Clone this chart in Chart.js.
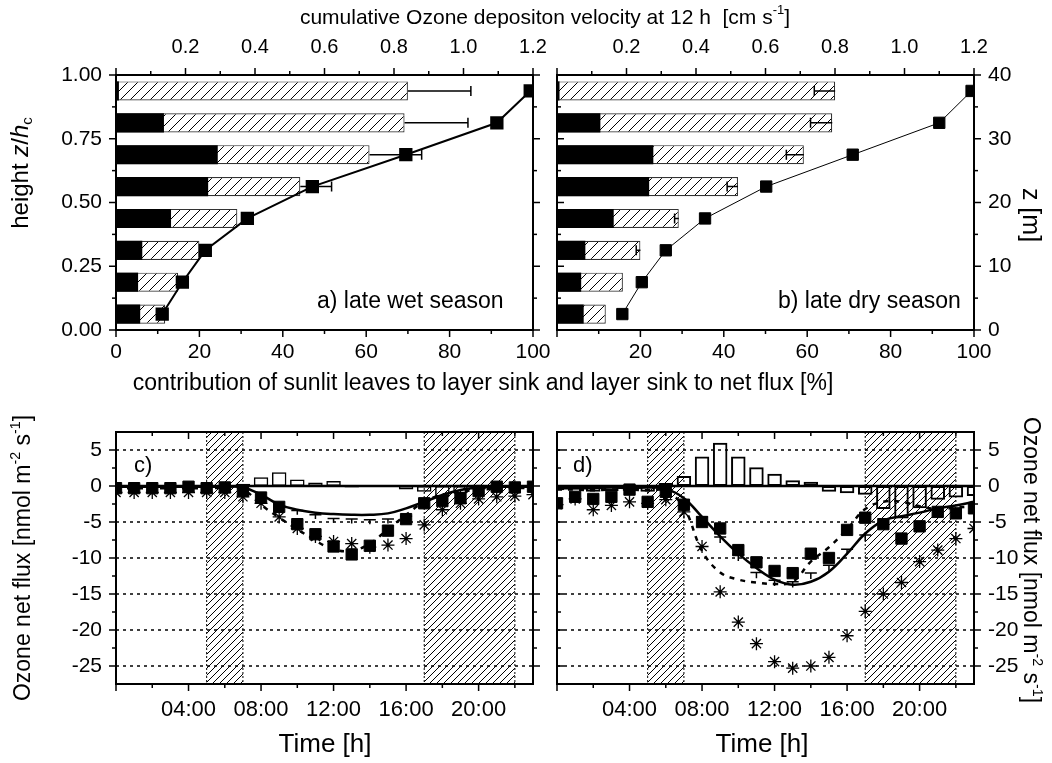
<!DOCTYPE html>
<html>
<head>
<meta charset="utf-8">
<script src="https://cdn.jsdelivr.net/npm/chart.js@4.4.1/dist/chart.umd.min.js"></script>
<style>
  body { margin: 0; width: 1052px; height: 763px; position: relative; overflow: hidden; background: #fff;
         font-family: "Liberation Sans", Arial, Helvetica, sans-serif; color: #000; }
  canvas { position: absolute; left: 0; top: 0; }
  .lbl { position: absolute; white-space: nowrap; line-height: 1; transform: translate(-50%, -50%); }
  .left { transform: translate(0, -50%); }
  .rotL { transform: translate(-50%, -50%) rotate(-90deg); }
  .rotR { transform: translate(-50%, -50%) rotate(90deg); }
  sup { font-size: 0.62em; vertical-align: 0.7em; line-height: 0; }
  sub { font-size: 0.62em; vertical-align: -0.3em; line-height: 0; }
</style>
</head>
<body>
<canvas id="panelA" width="1052" height="763"></canvas>
<canvas id="panelB" width="1052" height="763"></canvas>
<canvas id="panelC" width="1052" height="763"></canvas>
<canvas id="panelD" width="1052" height="763"></canvas>

<div class="lbl" style="left:545px;top:16px;font-size:21px">cumulative Ozone depositon velocity at 12 h&nbsp; [cm s<sup>-1</sup>]</div>
<div class="lbl" style="left:483px;top:382px;font-size:23px">contribution of sunlit leaves to layer sink and layer sink to net flux [%]</div>
<div class="lbl rotL" style="left:20px;top:173px;font-size:24px">height <i>z</i>/<i>h</i><sub>c</sub></div>
<div class="lbl rotR" style="left:1031px;top:215px;font-size:25px">z [m]</div>
<div class="lbl left" style="left:317px;top:300px;font-size:23px">a) late wet season</div>
<div class="lbl left" style="left:778px;top:300px;font-size:23px">b) late dry season</div>
<div class="lbl left" style="left:134px;top:465px;font-size:22px">c)</div>
<div class="lbl left" style="left:573px;top:465px;font-size:22px">d)</div>
<div class="lbl rotL" style="left:22px;top:558px;font-size:23px">Ozone net flux [nmol m<sup>-2</sup> s<sup>-1</sup>]</div>
<div class="lbl rotR" style="left:1031px;top:560px;font-size:23px">Ozone net flux [nmol m<sup>-2</sup> s<sup>-1</sup>]</div>
<div class="lbl" style="left:325px;top:743px;font-size:26px">Time [h]</div>
<div class="lbl" style="left:762px;top:743px;font-size:26px">Time [h]</div>

<script>
// ---- profiles (8 canopy layers, bottom -> top) ----
const layerZ = [0.0625, 0.1875, 0.3125, 0.4375, 0.5625, 0.6875, 0.8125, 0.9375];

// a) late wet season
const sinkWet    = [11.8, 14.9, 20.0, 29.1, 44.2, 60.8, 69.2, 70.0];
const sunlitWet  = [5.8, 5.3, 6.3, 13.2, 22.1, 24.4, 11.5, 0.7];
const sinkErrWet = [0, 0, 0, 0, 7.5, 12.5, 15.2, 15.1];
const vdWet      = [0.133, 0.191, 0.257, 0.378, 0.565, 0.834, 1.096, 1.192];

// b) late dry season
const sinkDry    = [11.7, 15.8, 20.0, 29.2, 43.4, 59.2, 66.0, 66.7];
const sunlitDry  = [6.4, 5.8, 6.8, 13.6, 22.1, 23.1, 10.4, 0.6];
const sinkErrDry = [0, 0, -1.0, -1.0, -2.6, -4.2, -5.2, -5.0];
const vdDry      = [0.188, 0.244, 0.313, 0.426, 0.602, 0.851, 1.100, 1.193];

// ---- diurnal courses ----
const hours = [0, 1, 2, 3, 4, 5, 6, 7, 8, 9, 10, 11, 12, 13, 14, 15, 16, 17, 18, 19, 20, 21, 22, 23];
const nightSpans = [[5, 7], [17, 22]];

// c) late wet season
const diffC  = [-0.1, -0.1, -0.1, -0.1, -0.1, -0.1, -0.1, 0.3, 1.2, 1.9, 0.9, 0.5, 0.7, -0.2, 0.15, 0.1, -0.5, -0.8, -1.5, -1.0, -0.5, -0.3, -0.2, -0.2];
const fluxC  = [-0.3, -0.3, -0.3, -0.3, -0.1, -0.3, -0.2, -0.7, -1.6, -2.9, -5.3, -6.7, -8.4, -9.5, -8.3, -6.2, -4.6, -2.4, -2.1, -1.7, -0.7, -0.1, -0.2, -0.1];
const starC  = [-0.9, -0.9, -0.9, -0.9, -0.9, -0.9, -0.9, -1.5, -2.4, -4.3, -5.9, -7.0, -7.7, -8.0, -8.5, -8.2, -7.3, -5.4, -3.3, -2.4, -1.8, -1.5, -1.4, -1.2];
const modelC = [-0.1, -0.1, -0.1, -0.1, -0.1, -0.1, -0.1, -0.2, -1.2, -2.6, -3.3, -3.7, -3.9, -4.0, -4.0, -3.8, -3.1, -2.2, -1.25, -0.55, -0.2, -0.1, -0.1, -0.1];
const dashC  = [-0.3, -0.3, -0.3, -0.3, -0.3, -0.3, -0.3, -0.5, -2.6, -4.4, -6.0, -7.6, -8.8, -9.0, -8.0, -6.0, -4.0, -2.2, -1.2, -0.8, -0.5, -0.4, -0.3, -0.3];
const capHiC = [null, null, null, null, null, null, null, null, null, null, -3.4, -4.0, -4.5, -4.6, -4.7, -4.6, -4.2, null, null, null, null, null, null, null];
const capLoC = [null, null, null, null, null, null, null, null, null, null, -4.0, -4.6, -5.1, -5.2, -5.3, -5.2, -4.8, null, null, null, null, null, null, null];

// d) late dry season
const diffD  = [-0.6, -0.5, -0.8, -0.7, -0.4, -0.8, 0.4, 1.4, 4.1, 6.0, 4.1, 2.6, 1.7, 0.8, 0.6, -0.8, -1.0, -1.2, -3.2, -4.5, -3.1, -1.9, -1.6, -1.4];
const fluxD  = [-2.4, -1.5, -1.8, -1.5, -0.5, -2.2, -0.8, -2.6, -5.0, -5.9, -8.9, -10.6, -11.8, -12.1, -9.4, -10.0, -6.1, -4.4, -5.3, -7.3, -5.6, -3.6, -3.8, -3.1];
const starD  = [-2.6, -1.8, -3.3, -2.7, -2.2, -2.4, -1.9, -3.6, -8.4, -14.7, -18.9, -21.9, -24.4, -25.3, -25.0, -23.8, -20.8, -17.4, -15.0, -13.4, -10.5, -8.9, -7.3, -5.9];
const modelD = [-0.3, -0.3, -0.3, -0.2, -0.3, -0.2, -0.4, -1.7, -4.3, -7.0, -9.4, -11.4, -13.0, -13.7, -13.3, -11.9, -9.4, -6.6, -4.8, -4.2, -3.7, -3.1, -2.7, -2.2];
const dashD  = [-0.5, -0.5, -0.6, -0.5, -0.5, -0.6, -0.7, -3.0, -9.0, -12.0, -13.0, -13.4, -13.6, -13.3, -10.5, -8.5, -6.0, -3.2, -2.2, -2.2, -2.8, -3.2, -3.0, -2.8];
const capHiD = [null, null, null, null, null, null, null, null, -4.3, -7.1, -9.6, -12.0, -13.1, -13.3, -12.1, -11.0, -8.8, -6.8, null, null, null, null, null, null];
const capLoD = [null, null, null, null, null, null, null, null, -5.0, -7.9, -10.4, -12.8, -13.9, -14.1, -12.9, -11.8, -9.6, -7.6, null, null, null, null, null, null];

// ---- ticks ----
const pctTicks   = [0, 20, 40, 60, 80, 100];
const vdTicks    = [0.2, 0.4, 0.6, 0.8, 1.0, 1.2];
const zhTicks    = [0, 0.25, 0.5, 0.75, 1];
const zmTicks    = [0, 10, 20, 30, 40];
const fluxTicks  = [5, 0, -5, -10, -15, -20, -25];
const gridLevels = [5, -5, -10, -15, -20, -25];
const timeTicks  = [4, 8, 12, 16, 20];
const timeLabels = ['04:00', '08:00', '12:00', '16:00', '20:00'];


const W = 1052, H = 763;
const FONT = '"Liberation Sans", Arial, Helvetica, sans-serif';

function mids(arr) {
    const out = [];
    for (let i = 1; i < arr.length; i++) out.push((arr[i - 1] + arr[i]) / 2);
    return out;
}

function hatchPattern(size, bg) {
    const c = document.createElement('canvas');
    c.width = c.height = size;
    const g = c.getContext('2d');
    if (bg) { g.fillStyle = bg; g.fillRect(0, 0, size, size); }
    g.strokeStyle = '#000';
    g.lineWidth = 1;
    g.beginPath();
    g.moveTo(0, size); g.lineTo(size, 0);
    g.moveTo(-1, 1); g.lineTo(1, -1);
    g.moveTo(size - 1, size + 1); g.lineTo(size + 1, size - 1);
    g.stroke();
    return c.getContext('2d').createPattern(c, 'repeat');
}

const barHatch = hatchPattern(10, '#fff');
const nightHatch = hatchPattern(7, null);

function drawAxis(ctx, chart, ax) {
    const s = chart.scales[ax.scale], a = chart.chartArea;
    const horiz = ax.side === 'top' || ax.side === 'bottom';
    const edge = a[ax.side];
    const sign = (ax.side === 'bottom' || ax.side === 'right') ? 1 : -1;
    const d = ax.inward ? -sign : sign;
    const tick = (v, len) => {
        const p = s.getPixelForValue(v);
        ctx.beginPath();
        if (horiz) { ctx.moveTo(p, edge); ctx.lineTo(p, edge + d * len); }
        else { ctx.moveTo(edge, p); ctx.lineTo(edge + d * len, p); }
        ctx.stroke();
    };
    ctx.lineWidth = 1.5;
    ax.major.forEach(v => tick(v, 7));
    (ax.minor || []).forEach(v => tick(v, 4));
    if (!ax.labels) return;
    ctx.font = (ax.size || 21) + 'px ' + FONT;
    ctx.fillStyle = '#000';
    const at = ax.at || ax.major;
    ax.labels.forEach((t, i) => {
        const p = s.getPixelForValue(at[i]);
        if (horiz) {
            ctx.textAlign = 'center'; ctx.textBaseline = 'middle';
            ctx.fillText(t, p, edge + sign * ax.gap);
        } else {
            ctx.textAlign = sign < 0 ? 'right' : 'left'; ctx.textBaseline = 'middle';
            ctx.fillText(t, edge + sign * ax.gap, p);
        }
    });
}

// frame, ticks, night shading, grid and error bars in the Origin look
function framePlugin(conf) {
    return {
        id: 'frame',
        beforeDatasetsDraw(chart) {
            const ctx = chart.ctx, a = chart.chartArea;
            const xs = chart.scales.x, ys = chart.scales.y;
            ctx.save();
            ctx.strokeStyle = '#000';
            (conf.spans || []).forEach(([s, e]) => {
                const x0 = xs.getPixelForValue(s), x1 = xs.getPixelForValue(e);
                ctx.fillStyle = nightHatch;
                ctx.fillRect(x0, a.top, x1 - x0, a.bottom - a.top);
                ctx.lineWidth = 1; ctx.setLineDash([2, 2]);
                [x0, x1].forEach(x => { ctx.beginPath(); ctx.moveTo(x, a.top); ctx.lineTo(x, a.bottom); ctx.stroke(); });
            });
            ctx.setLineDash([3, 4]);
            ctx.lineWidth = 1.5;
            (conf.grid || []).forEach(v => {
                const y = ys.getPixelForValue(v);
                ctx.beginPath(); ctx.moveTo(a.left, y); ctx.lineTo(a.right, y); ctx.stroke();
            });
            ctx.setLineDash([]);
            if (conf.zeroLine) {
                const y = ys.getPixelForValue(0);
                ctx.lineWidth = 2.5;
                ctx.beginPath(); ctx.moveTo(a.left, y); ctx.lineTo(a.right, y); ctx.stroke();
            }
            ctx.restore();
        },
        afterDatasetsDraw(chart) {
            const ctx = chart.ctx;
            const xs = chart.scales.x, ys = chart.scales.y;
            ctx.save();
            ctx.strokeStyle = '#000';
            ctx.lineWidth = 1.5;
            if (conf.err) {
                conf.err.values.forEach((v, i) => {
                    const e = conf.err.err[i];
                    if (!e) return;
                    const y = ys.getPixelForValue(layerZ[i]);
                    const x0 = xs.getPixelForValue(v), x1 = xs.getPixelForValue(v + e);
                    ctx.beginPath();
                    ctx.moveTo(x0, y); ctx.lineTo(x1, y);
                    ctx.moveTo(x1, y - 5); ctx.lineTo(x1, y + 5);
                    ctx.stroke();
                });
            }
            if (conf.tee) {
                hours.forEach((h, i) => {
                    const hi = conf.tee.hi[i], lo = conf.tee.lo[i];
                    if (hi === null) return;
                    const x = xs.getPixelForValue(h);
                    const y0 = ys.getPixelForValue(lo), y1 = ys.getPixelForValue(hi);
                    ctx.beginPath();
                    ctx.moveTo(x, y0); ctx.lineTo(x, y1);
                    ctx.moveTo(x - 6, y1); ctx.lineTo(x + 6, y1);
                    ctx.stroke();
                });
            }
            ctx.restore();
        },
        afterDraw(chart) {
            const ctx = chart.ctx, a = chart.chartArea;
            ctx.save();
            ctx.strokeStyle = '#000';
            ctx.lineWidth = 2;
            ctx.strokeRect(a.left, a.top, a.right - a.left, a.bottom - a.top);
            (conf.axes || []).forEach(ax => drawAxis(ctx, chart, ax));
            ctx.restore();
        }
    };
}

function baseOptions(area) {
    return {
        responsive: false,
        animation: false,
        events: [],
        devicePixelRatio: 1,
        layout: { padding: { left: area.l, top: area.t, right: W - area.r, bottom: H - area.b } },
        plugins: { legend: { display: false }, tooltip: { enabled: false } }
    };
}

function buildProfile(id, area, sink, sunlit, err, vd, lineWidth, axes) {
    const opts = baseOptions(area);
    opts.indexAxis = 'y';
    opts.scales = {
        x:  { type: 'linear', axis: 'x', min: 0, max: 100, display: false, offset: false },
        x2: { type: 'linear', axis: 'x', min: 0, max: 1.2, display: false, offset: false },
        y:  { type: 'linear', axis: 'y', min: 0, max: 1, display: false, offset: false },
        yz: { type: 'linear', axis: 'y', min: 0, max: 40, display: false, offset: false }
    };
    return new Chart(document.getElementById(id), {
        type: 'bar',
        data: {
            datasets: [
                {
                    type: 'line', xAxisID: 'x2', yAxisID: 'y',
                    data: layerZ.map((z, i) => ({ x: vd[i], y: z })),
                    borderColor: '#000', borderWidth: lineWidth, tension: 0,
                    pointStyle: 'rect', pointRadius: 8,
                    pointBackgroundColor: '#000', pointBorderColor: '#000', order: 0
                },
                {
                    xAxisID: 'x', yAxisID: 'y',
                    data: layerZ.map((z, i) => ({ x: sunlit[i], y: z })),
                    backgroundColor: '#000', borderWidth: 0, grouped: false,
                    barPercentage: 0.75, categoryPercentage: 1, order: 1
                },
                {
                    xAxisID: 'x', yAxisID: 'y',
                    data: layerZ.map((z, i) => ({ x: sink[i], y: z })),
                    backgroundColor: barHatch, borderColor: '#333', borderWidth: 1.2,
                    borderSkipped: false, grouped: false,
                    barPercentage: 0.75, categoryPercentage: 1, order: 2
                }
            ]
        },
        options: opts,
        plugins: [framePlugin({ axes, err: { values: sink, err } })]
    });
}

function buildFlux(id, area, s, axes) {
    const pts = vals => hours.map((h, i) => ({ x: h, y: vals[i] }));
    const opts = baseOptions(area);
    opts.scales = {
        x: { type: 'linear', min: 0, max: 23, display: false, offset: false },
        y: { type: 'linear', min: -27.5, max: 7.5, display: false, offset: false }
    };
    return new Chart(document.getElementById(id), {
        type: 'bar',
        data: {
            datasets: [
                {
                    type: 'line', data: pts(s.flux), showLine: false,
                    pointStyle: 'rect', pointRadius: 8,
                    pointBackgroundColor: '#000', pointBorderColor: '#000', order: 0
                },
                {
                    type: 'line', data: pts(s.star), showLine: false,
                    pointStyle: 'star', pointRadius: 6.5, pointBorderWidth: 1.3,
                    pointBackgroundColor: '#000', pointBorderColor: '#000', order: 1
                },
                {
                    type: 'line', data: pts(s.model), borderColor: '#000', borderWidth: 2.5,
                    pointRadius: 0, tension: 0.4, order: 2
                },
                {
                    type: 'line', data: pts(s.dash), borderColor: '#000', borderWidth: 2.5,
                    borderDash: [5, 6], pointRadius: 0, tension: 0.4, order: 3
                },
                {
                    data: pts(s.diff), backgroundColor: 'rgba(0,0,0,0)', borderColor: '#000',
                    borderWidth: s.barLine, borderSkipped: false, grouped: false,
                    barPercentage: 0.8, categoryPercentage: 1, order: 4
                }
            ]
        },
        options: opts,
        plugins: [framePlugin({
            axes, spans: nightSpans, grid: gridLevels, zeroLine: true,
            tee: { hi: s.capHi, lo: s.capLo }
        })]
    });
}

const areaA = { l: 116, t: 75, r: 533, b: 330 };
const areaB = { l: 557, t: 75, r: 974, b: 330 };
const areaC = { l: 116, t: 432, r: 533, b: 684 };
const areaD = { l: 557, t: 432, r: 974, b: 684 };

const vdAll = [0].concat(vdTicks);
const vdLabels = vdTicks.map(v => v.toFixed(1));
const timeAll = [0].concat(timeTicks);
const timeMinor = mids(timeAll).concat([22]);

buildProfile('panelA', areaA, sinkWet, sunlitWet, sinkErrWet, vdWet, 2, [
    { scale: 'x', side: 'bottom', major: pctTicks, minor: mids(pctTicks), labels: pctTicks.map(String), gap: 22 },
    { scale: 'x2', side: 'top', major: vdAll, minor: mids(vdAll), at: vdTicks, labels: vdLabels, gap: 28, size: 20 },
    { scale: 'y', side: 'left', major: zhTicks, minor: mids(zhTicks), labels: zhTicks.map(v => v.toFixed(2)), gap: 14 },
    { scale: 'y', side: 'right', major: zhTicks, minor: mids(zhTicks) }
]);

buildProfile('panelB', areaB, sinkDry, sunlitDry, sinkErrDry, vdDry, 1, [
    { scale: 'x', side: 'bottom', major: pctTicks, minor: mids(pctTicks), at: pctTicks.slice(1), labels: pctTicks.slice(1).map(String), gap: 22 },
    { scale: 'x2', side: 'top', major: vdAll, minor: mids(vdAll), at: vdTicks, labels: vdLabels, gap: 28, size: 20 },
    { scale: 'y', side: 'left', major: zhTicks, minor: mids(zhTicks), inward: true },
    { scale: 'yz', side: 'right', major: zmTicks, minor: mids(zmTicks), labels: zmTicks.map(String), gap: 14 }
]);

buildFlux('panelC', areaC, {
    diff: diffC, flux: fluxC, star: starC, model: modelC, dash: dashC,
    capHi: capHiC, capLo: capLoC, barLine: 1.5
}, [
    { scale: 'x', side: 'bottom', major: timeAll, minor: timeMinor, at: timeTicks, labels: timeLabels, gap: 26, size: 22 },
    { scale: 'x', side: 'top', major: timeAll, minor: timeMinor, inward: true },
    { scale: 'y', side: 'left', major: fluxTicks, minor: mids(fluxTicks), labels: fluxTicks.map(String), gap: 14 },
    { scale: 'y', side: 'right', major: fluxTicks, minor: mids(fluxTicks) }
]);

buildFlux('panelD', areaD, {
    diff: diffD, flux: fluxD, star: starD, model: modelD, dash: dashD,
    capHi: capHiD, capLo: capLoD, barLine: 2
}, [
    { scale: 'x', side: 'bottom', major: timeAll, minor: timeMinor, at: timeTicks, labels: timeLabels, gap: 26, size: 22 },
    { scale: 'x', side: 'top', major: timeAll, minor: timeMinor, inward: true },
    { scale: 'y', side: 'left', major: fluxTicks, minor: mids(fluxTicks), inward: true },
    { scale: 'y', side: 'right', major: fluxTicks, minor: mids(fluxTicks), labels: fluxTicks.map(String), gap: 14 }
]);
</script>
</body>
</html>
